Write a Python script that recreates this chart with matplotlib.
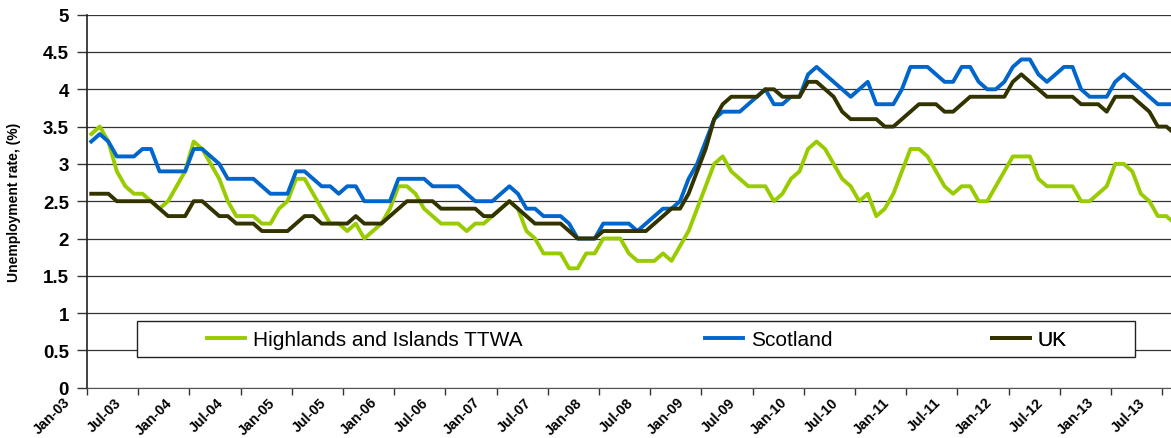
import matplotlib
matplotlib.use("Agg")
import matplotlib.pyplot as plt
import matplotlib.transforms as mtransforms
from matplotlib.patches import Rectangle
from matplotlib.lines import Line2D
import numpy as np

plt.rcParams['font.family'] = ['Liberation Sans', 'DejaVu Sans']

# Monthly series, Jan-03 .. Aug-13
highlands = [3.4, 3.5, 3.3, 2.9, 2.7, 2.6, 2.6, 2.5, 2.4, 2.5, 2.7, 2.9,
             3.3, 3.2, 3.0, 2.8, 2.5, 2.3, 2.3, 2.3, 2.2, 2.2, 2.4, 2.5,
             2.8, 2.8, 2.6, 2.4, 2.2, 2.2, 2.1, 2.2, 2.0, 2.1, 2.2, 2.4,
             2.7, 2.7, 2.6, 2.4, 2.3, 2.2, 2.2, 2.2, 2.1, 2.2, 2.2, 2.3,
             2.4, 2.5, 2.4, 2.1, 2.0, 1.8, 1.8, 1.8, 1.6, 1.6, 1.8, 1.8,
             2.0, 2.0, 2.0, 1.8, 1.7, 1.7, 1.7, 1.8, 1.7, 1.9, 2.1, 2.4,
             2.7, 3.0, 3.1, 2.9, 2.8, 2.7, 2.7, 2.7, 2.5, 2.6, 2.8, 2.9,
             3.2, 3.3, 3.2, 3.0, 2.8, 2.7, 2.5, 2.6, 2.3, 2.4, 2.6, 2.9,
             3.2, 3.2, 3.1, 2.9, 2.7, 2.6, 2.7, 2.7, 2.5, 2.5, 2.7, 2.9,
             3.1, 3.1, 3.1, 2.8, 2.7, 2.7, 2.7, 2.7, 2.5, 2.5, 2.6, 2.7,
             3.0, 3.0, 2.9, 2.6, 2.5, 2.3, 2.3, 2.2]

scotland = [3.3, 3.4, 3.3, 3.1, 3.1, 3.1, 3.2, 3.2, 2.9, 2.9, 2.9, 2.9,
            3.2, 3.2, 3.1, 3.0, 2.8, 2.8, 2.8, 2.8, 2.7, 2.6, 2.6, 2.6,
            2.9, 2.9, 2.8, 2.7, 2.7, 2.6, 2.7, 2.7, 2.5, 2.5, 2.5, 2.5,
            2.8, 2.8, 2.8, 2.8, 2.7, 2.7, 2.7, 2.7, 2.6, 2.5, 2.5, 2.5,
            2.6, 2.7, 2.6, 2.4, 2.4, 2.3, 2.3, 2.3, 2.2, 2.0, 2.0, 2.0,
            2.2, 2.2, 2.2, 2.2, 2.1, 2.2, 2.3, 2.4, 2.4, 2.5, 2.8, 3.0,
            3.3, 3.6, 3.7, 3.7, 3.7, 3.8, 3.9, 4.0, 3.8, 3.8, 3.9, 3.9,
            4.2, 4.3, 4.2, 4.1, 4.0, 3.9, 4.0, 4.1, 3.8, 3.8, 3.8, 4.0,
            4.3, 4.3, 4.3, 4.2, 4.1, 4.1, 4.3, 4.3, 4.1, 4.0, 4.0, 4.1,
            4.3, 4.4, 4.4, 4.2, 4.1, 4.2, 4.3, 4.3, 4.0, 3.9, 3.9, 3.9,
            4.1, 4.2, 4.1, 4.0, 3.9, 3.8, 3.8, 3.8]

uk = [2.6, 2.6, 2.6, 2.5, 2.5, 2.5, 2.5, 2.5, 2.4, 2.3, 2.3, 2.3,
      2.5, 2.5, 2.4, 2.3, 2.3, 2.2, 2.2, 2.2, 2.1, 2.1, 2.1, 2.1,
      2.2, 2.3, 2.3, 2.2, 2.2, 2.2, 2.2, 2.3, 2.2, 2.2, 2.2, 2.3,
      2.4, 2.5, 2.5, 2.5, 2.5, 2.4, 2.4, 2.4, 2.4, 2.4, 2.3, 2.3,
      2.4, 2.5, 2.4, 2.3, 2.2, 2.2, 2.2, 2.2, 2.1, 2.0, 2.0, 2.0,
      2.1, 2.1, 2.1, 2.1, 2.1, 2.1, 2.2, 2.3, 2.4, 2.4, 2.6, 2.9,
      3.2, 3.6, 3.8, 3.9, 3.9, 3.9, 3.9, 4.0, 4.0, 3.9, 3.9, 3.9,
      4.1, 4.1, 4.0, 3.9, 3.7, 3.6, 3.6, 3.6, 3.6, 3.5, 3.5, 3.6,
      3.7, 3.8, 3.8, 3.8, 3.7, 3.7, 3.8, 3.9, 3.9, 3.9, 3.9, 3.9,
      4.1, 4.2, 4.1, 4.0, 3.9, 3.9, 3.9, 3.9, 3.8, 3.8, 3.8, 3.7,
      3.9, 3.9, 3.9, 3.8, 3.7, 3.5, 3.5, 3.4]

tick_labels = ['Jan-03', 'Jul-03', 'Jan-04', 'Jul-04', 'Jan-05', 'Jul-05',
               'Jan-06', 'Jul-06', 'Jan-07', 'Jul-07', 'Jan-08', 'Jul-08',
               'Jan-09', 'Jul-09', 'Jan-10', 'Jul-10', 'Jan-11', 'Jul-11',
               'Jan-12', 'Jul-12', 'Jan-13', 'Jul-13']
y_ticks = [0, 0.5, 1, 1.5, 2, 2.5, 3, 3.5, 4, 4.5, 5]
y_tick_labels = ['0', '0.5', '1', '1.5', '2', '2.5', '3', '3.5', '4', '4.5', '5']
series_names = ['Highlands and Islands TTWA', 'Scotland', 'UK']
colors = ['#99CC00', '#0066CC', '#333300']

W, H = 1171, 439
L, B, T = 87.0, 388.7, 15.7
fig = plt.figure(figsize=(W / 100, H / 100), dpi=100)
ax = fig.add_axes([L / W, (H - B) / H, (W - L) / W, (B - T) / H])

x = np.arange(len(highlands)) + 0.5
for vals, c in zip([highlands, scotland, uk], colors):
    ax.plot(x, vals, color=c, lw=2.8, solid_joinstyle='round', zorder=3)

ticks = np.arange(0, 6 * len(tick_labels), 6)
ax.set_xticks(ticks)
ax.set_xticklabels([])
ax.set_yticks(y_ticks)
ax.set_yticklabels(y_tick_labels, fontsize=13.5, fontweight='bold')
ax.set_xlim(0, (W - L) / 8.533)
ax.set_ylim(0, 5)
ax.grid(axis='y', color='#333333', lw=0.9, zorder=1)
ax.set_axisbelow(True)

# rotated x labels, anchored left of each tick
offset = mtransforms.ScaledTranslation(-24 / 100, -7 / 100, fig.dpi_scale_trans)
trans = ax.get_xaxis_transform() + offset
for t, lab in zip(ticks, tick_labels):
    ax.text(t, 0, lab, transform=trans, rotation=45, ha='right', va='top',
            rotation_mode='anchor', fontsize=10.3, fontweight='bold',
            clip_on=False)

ax.tick_params(axis='y', length=7, width=1, pad=6, color='#333333')
ax.tick_params(axis='x', length=5, width=1, color='#333333')
for s in ['top', 'right']:
    ax.spines[s].set_visible(False)
ax.spines['left'].set_color('#222222')
ax.spines['left'].set_linewidth(1.2)
ax.spines['bottom'].set_color('#555555')

ax.set_ylabel('Unemployment rate, (%)', fontsize=10, fontweight='bold')
ax.yaxis.set_label_coords((21 - L) / (W - L), 0.5)

# Legend box
axw, axh = W - L, B - T
box = Rectangle(((137 - L) / axw, (B - 358) / axh), (1135 - 137) / axw, 36 / axh,
                transform=ax.transAxes, facecolor='white', edgecolor='#222222',
                lw=1.0, zorder=4)
ax.add_patch(box)
starts = [207, 705, 992]
for name, c, xs in zip(series_names, colors, starts):
    h = Line2D([], [], color=c, lw=2.8)
    leg = ax.legend([h], [name], loc='center left',
                    bbox_to_anchor=((xs - L) / axw, (B - 341) / axh),
                    frameon=False, fontsize=15, handlelength=1.8,
                    handletextpad=0.4, borderpad=0, borderaxespad=0)
    leg.set_zorder(5)
    ax.add_artist(leg)

fig.savefig('out.png', dpi=100)
